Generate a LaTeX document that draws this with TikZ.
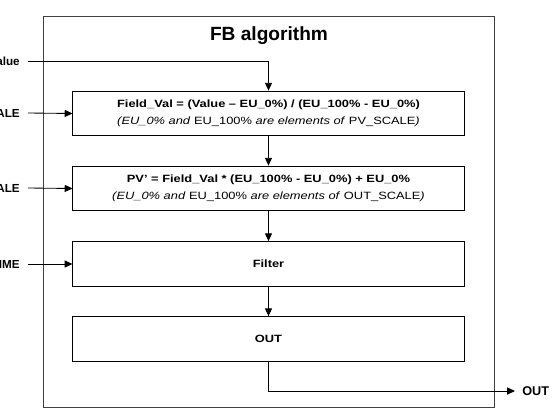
\documentclass[tikz,border=0pt]{standalone}
\usepackage{fontspec}
\setmainfont{Liberation Sans}
\usetikzlibrary{arrows.meta}
\tikzset{
	fbbox/.style={draw, line width=0.7pt, minimum width=9.775cm, minimum height=1.12cm, align=center, inner sep=0pt, font=\fontsize{7.5}{12.2}\selectfont},
	flow/.style={line width=0.6pt, -{Triangle[length=5.5pt,width=5pt]}},
	sig/.style={font=\bfseries\fontsize{8.3}{10}\selectfont, inner sep=0pt}
}
%box texts are set a bit wider than the font
\newcommand{\wide}[1]{\scalebox{1.22}[1]{#1}}
\newcommand{\eurange}[1]{\wide{\textit{(EU\_0\% and} EU\_100\% \textit{are elements of} #1\textit{)}}}

\begin{document}
\begin{tikzpicture}[x=0.025cm, y=-0.025cm]
	\useasboundingbox (0,0) rectangle (560,416);
	%function block frame with title
	\draw[line width=0.7pt, black!75] (43,16) rectangle (494,407);
	\node[font=\bfseries\fontsize{13.6}{15}\selectfont] (title) at (269,36) {FB algorithm};

	%the four steps, top to bottom
	\node[fbbox] (scale) at (268.5,113.5) {\wide{\textbf{Field\_Val = (Value -- EU\_0\%) / (EU\_100\% - EU\_0\%)}}\\ \eurange{PV\_SCALE}};
	\node[fbbox] (rescale) at (268.5,188.5) {\wide{\textbf{PV' = Field\_Val * (EU\_100\% - EU\_0\%) + EU\_0\%}}\\ \eurange{OUT\_SCALE}};
	\node[fbbox] (filter) at (268.5,264) {\wide{\textbf{Filter}}};
	\node[fbbox] (out) at (268.5,339) {\wide{\textbf{OUT}}};

	%inputs coming in from the left (names run off the page)
	\node[sig, anchor=east] (valin) at (20,61) {alue};
	\node[sig, anchor=east] (pvin) at (20,113) {SCALE};
	\node[sig, anchor=east] (outin) at (20,188) {ALE};
	\node[sig, anchor=east] (timein) at (20,264) {IME};
	\draw[flow] (valin.east) ++(8,0) -| (scale.north);
	\draw[flow] (pvin.east) ++(8,0) -- (scale.west);
	\draw[flow] (outin.east) ++(8,0) -- (rescale.west);
	\draw[flow] (timein.east) ++(8,0) -- (filter.west);

	%internal chain
	\draw[flow] (scale) -- (rescale);
	\draw[flow] (rescale) -- (filter);
	\draw[flow] (filter) -- (out);

	%output
	\node[sig, font=\bfseries\fontsize{9}{11}\selectfont, anchor=west] (outpin) at (522,391) {OUT};
	\draw[flow] (out.south) |- ([xshift=-5pt]outpin.west);
\end{tikzpicture}
\end{document}
